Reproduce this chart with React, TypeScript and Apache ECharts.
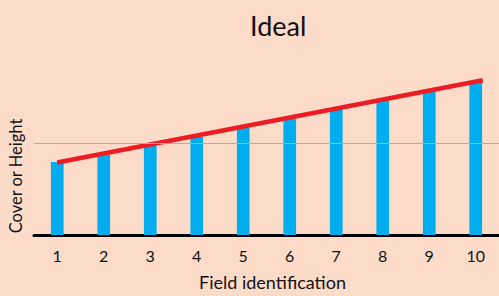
import React, { useEffect, useRef } from "react";
import * as echarts from "echarts";

const categories = ["1", "2", "3", "4", "5", "6", "7", "8", "9", "10"];
const barValues = [39.7, 43.6, 48.6, 53.4, 58.3, 63.2, 68.6, 73.4, 78.8, 83.4];
const trendPoints: [number, number][] = [
  [1, 39.5],
  [10.15, 84.3],
];
const referenceLevel = 50;

export default function App() {
  const ref = useRef<HTMLDivElement>(null);
  useEffect(() => {
    document.body.style.margin = "0";
    const chart = echarts.init(ref.current!, null, { renderer: "svg" });
    const font = "Lato, 'Open Sans', sans-serif";
    chart.setOption({
      animation: false,
      backgroundColor: "#FCDCC9",
      textStyle: { fontFamily: font },
      title: {
        text: "Ideal",
        left: 245,
        top: 7,
        textStyle: { fontFamily: font, fontSize: 27, fontWeight: "normal", color: "#111" },
      },
      grid: { left: 34, right: 0, top: 51.4, bottom: 58 },
      xAxis: [
        {
          type: "category",
          data: categories,
          axisLine: { lineStyle: { color: "#000", width: 3 } },
          axisTick: { show: false },
          axisLabel: { color: "#111", fontSize: 16, margin: 12, fontFamily: font },
          name: "Field identification",
          nameLocation: "middle",
          nameGap: 38,
          nameTextStyle: { color: "#111", fontSize: 18, fontFamily: font, padding: [0, 0, 0, 12] },
        },
        { type: "value", min: 0.5, max: 10.5, show: false },
      ],
      yAxis: {
        type: "value",
        min: 0,
        max: 100,
        show: true,
        axisLine: { show: false },
        axisTick: { show: false },
        axisLabel: { show: false },
        splitLine: { show: false },
      },
      graphic: [
        {
          type: "text",
          x: 16,
          y: 176,
          rotation: Math.PI / 2,
          style: {
            text: "Cover or Height",
            fill: "#111",
            fontSize: 16.5,
            fontFamily: font,
            align: "center",
            verticalAlign: "middle",
          },
        },
      ],
      series: [
        {
          type: "bar",
          data: barValues,
          barWidth: 12.7,
          itemStyle: { color: "#00AEEF" },
          markLine: {
            silent: true,
            symbol: "none",
            label: { show: false },
            lineStyle: { color: "#98B4CA", width: 1, type: "solid" },
            data: [{ yAxis: referenceLevel }],
          },
        },
        {
          type: "line",
          xAxisIndex: 1,
          data: trendPoints,
          symbol: "none",
          lineStyle: { color: "#EC1C24", width: 4.5 },
        },
      ],
    });
    return () => chart.dispose();
  }, []);
  return <div ref={ref} style={{ width: 499, height: 296 }} />;
}
